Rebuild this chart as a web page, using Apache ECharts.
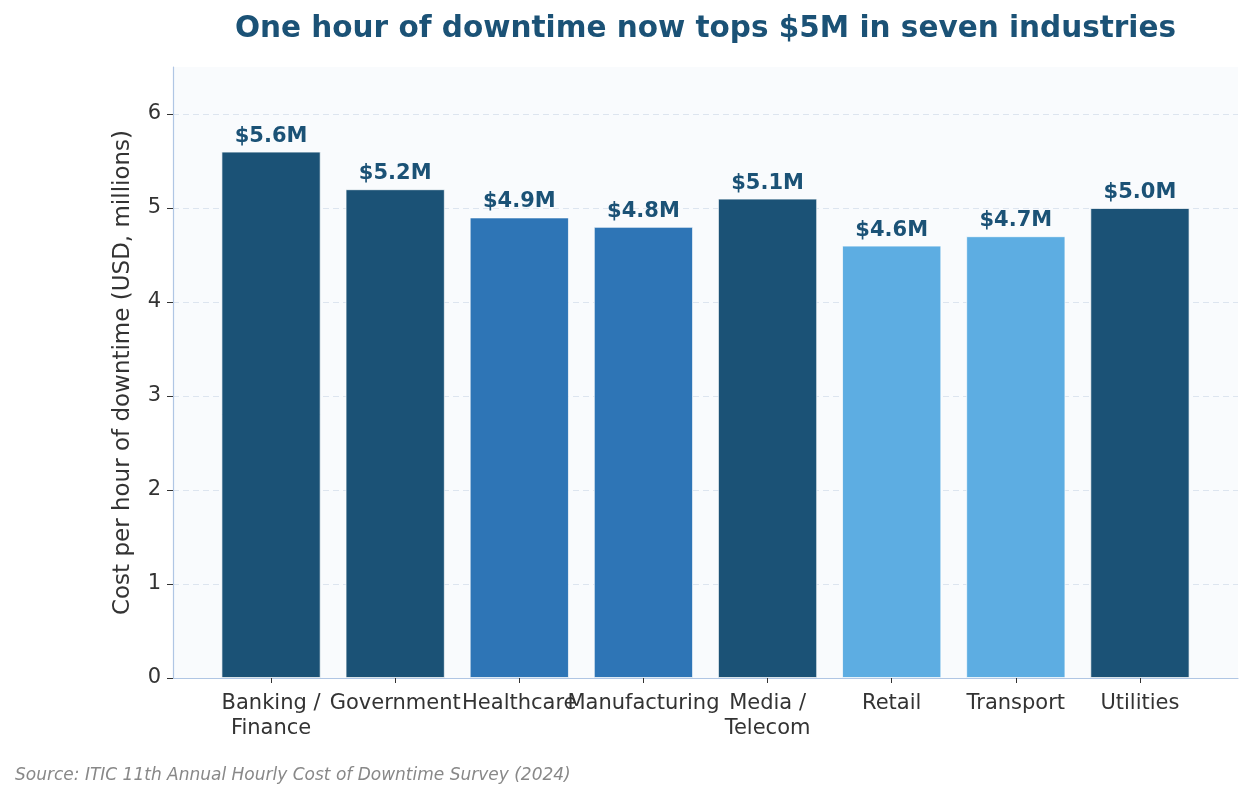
<!DOCTYPE html>
<html>
<head>
<meta charset="utf-8">
<script src="https://cdn.jsdelivr.net/npm/echarts@6/dist/echarts.min.js"></script>
<style>
  html, body { margin: 0; padding: 0; background: #ffffff; }
  #chart { width: 1253px; height: 800px; }
</style>
</head>
<body>
<div id="chart"></div>
<script>
// data
const industries = ['Banking /\nFinance', 'Government', 'Healthcare', 'Manufacturing', 'Media /\nTelecom', 'Retail', 'Transport', 'Utilities']
const costPerHour = [5.6, 5.2, 4.9, 4.8, 5.1, 4.6, 4.7, 5.0]
const yTicks = [0, 1, 2, 3, 4, 5, 6]

const DARK = '#1b5276'
const MID = '#2e75b6'
const LIGHT = '#5dade2'

function barColor (v) {
  if (v >= 5.0) return DARK
  if (v >= 4.8) return MID
  return LIGHT
}

const chart = echarts.init(document.getElementById('chart'), null, { renderer: 'canvas' })

const option = {
  animation: false,
  textStyle: { fontFamily: 'DejaVu Sans' },
  grid: [
    // full plot area: background, spines, y ticks
    { left: 173, right: 15, top: 67, bottom: 122, show: true, backgroundColor: '#f9fbfd', borderWidth: 0 },
    // inner area holding the category bands
    { left: 209, right: 51, top: 67, bottom: 122 }
  ],
  xAxis: [
    {
      gridIndex: 0,
      type: 'value',
      min: 0,
      max: 1,
      axisLine: { show: true, lineStyle: { color: '#b0c6e4', width: 1.2 } },
      axisTick: { show: false },
      axisLabel: { show: false },
      splitLine: { show: false }
    },
    {
      gridIndex: 1,
      type: 'category',
      data: industries,
      axisLine: { show: false },
      axisTick: { show: true, alignWithLabel: true, length: 5, lineStyle: { color: '#333' } },
      axisLabel: { interval: 0, fontSize: 21, color: '#333', lineHeight: 25, margin: 13 }
    }
  ],
  yAxis: [
    {
      gridIndex: 0,
      type: 'value',
      min: 0,
      max: 6.5,
      interval: 1,
      name: 'Cost per hour of downtime (USD, millions)',
      nameLocation: 'middle',
      nameGap: 38,
      nameTextStyle: { fontSize: 23, color: '#333' },
      axisLine: { show: true, lineStyle: { color: '#b0c6e4', width: 1.2 } },
      axisTick: { show: true, length: 6, customValues: yTicks, lineStyle: { color: '#333' } },
      axisLabel: { fontSize: 21, color: '#333', margin: 12, customValues: yTicks },
      splitLine: { show: true, lineStyle: { color: '#dde5ef', type: [6, 4], width: 1 } }
    },
    {
      gridIndex: 1,
      type: 'value',
      min: 0,
      max: 6.5,
      show: false,
      splitLine: { show: false }
    }
  ],
  series: [
    {
      type: 'bar',
      xAxisIndex: 1,
      yAxisIndex: 1,
      barWidth: '80%',
      data: costPerHour.map(v => ({
        value: v,
        itemStyle: { color: barColor(v) }
      })),
      itemStyle: { borderColor: 'rgba(255,255,255,0.7)', borderWidth: 1 },
      label: {
        show: true,
        position: 'top',
        distance: 5,
        fontSize: 21,
        fontWeight: 'bold',
        color: DARK,
        formatter: p => '$' + p.value.toFixed(1) + 'M'
      }
    }
  ],
  graphic: [
    {
      type: 'text',
      x: 705.5,
      y: 29,
      style: {
        text: 'One hour of downtime now tops $5M in seven industries',
        align: 'center',
        verticalAlign: 'middle',
        fontSize: 29.5,
        fontWeight: 'bold',
        fill: DARK,
        fontFamily: 'DejaVu Sans'
      }
    },
    {
      type: 'text',
      x: 15,
      y: 776,
      style: {
        text: 'Source: ITIC 11th Annual Hourly Cost of Downtime Survey (2024)',
        verticalAlign: 'middle',
        fontSize: 17,
        fontStyle: 'italic',
        fill: '#888888',
        fontFamily: 'DejaVu Sans'
      }
    }
  ]
}

chart.setOption(option)
</script>
</body>
</html>
